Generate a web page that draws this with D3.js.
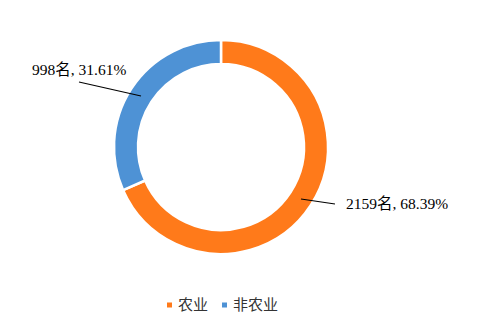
<!DOCTYPE html>
<html>
<head>
<meta charset="utf-8">
<script src="https://cdn.jsdelivr.net/npm/d3@7"></script>
<style>
  html, body { margin: 0; padding: 0; background: #fff; }
</style>
</head>
<body>
<div id="container"></div>
<script>
'use strict';

const w = 489;
const h = 326;

// Data.
const categories = ['农业', '非农业'];
const counts = [2159, 998];
const shares = ['68.39%', '31.61%'];
const colors = ['#FF7A1A', '#4E92D5'];

const cx = 221;
const cy = 147;
const outerR = 107;
const innerR = 83;

const svg = d3.select('#container')
    .append('svg')
    .attr('width', w)
    .attr('height', h);

const pie = d3.pie().sort(null).value(d => d);
const arcs = pie(counts);
const arc = d3.arc().innerRadius(innerR).outerRadius(outerR);

const ring = svg.append('g')
    .attr('transform', 'translate(' + cx + ',' + cy + ')');

ring.selectAll('path')
    .data(arcs)
    .enter()
    .append('path')
    .attr('d', arc)
    .attr('fill', (d, i) => colors[i])
    .attr('stroke', '#fff')
    .attr('stroke-width', 2.5);

// Leader lines and labels.
const labelFont = '"Liberation Serif", "Times New Roman", "Noto Sans CJK SC", serif';
const labelPos = [
    { from: [80, 52], to: [114, 57], text: [125, 62] },
    { from: [-80, -51], to: [-142, -65], text: [-189, -72] }
];

arcs.forEach((d, i) => {
    const p = labelPos[i];
    ring.append('polyline')
        .attr('points', [p.from, p.to].map(q => q.join(',')).join(' '))
        .attr('fill', 'none')
        .attr('stroke', '#000')
        .attr('stroke-width', 1.2);
    ring.append('text')
        .attr('x', p.text[0])
        .attr('y', p.text[1])
        .attr('font-family', labelFont)
        .attr('font-size', 15.5)
        .attr('fill', '#000')
        .text(counts[i] + '名, ' + shares[i]);
});

// Legend.
const legend = svg.append('g').attr('transform', 'translate(0, 305)');
const legendX = [167, 222];
categories.forEach((c, i) => {
    legend.append('rect')
        .attr('x', legendX[i])
        .attr('y', -2.5)
        .attr('width', 5)
        .attr('height', 5)
        .attr('fill', colors[i]);
    legend.append('text')
        .attr('x', legendX[i] + 11)
        .attr('y', 0)
        .attr('dy', '0.35em')
        .attr('font-family', '"Noto Sans CJK SC", sans-serif')
        .attr('font-size', 15)
        .attr('fill', '#333')
        .text(c);
});
</script>
</body>
</html>
